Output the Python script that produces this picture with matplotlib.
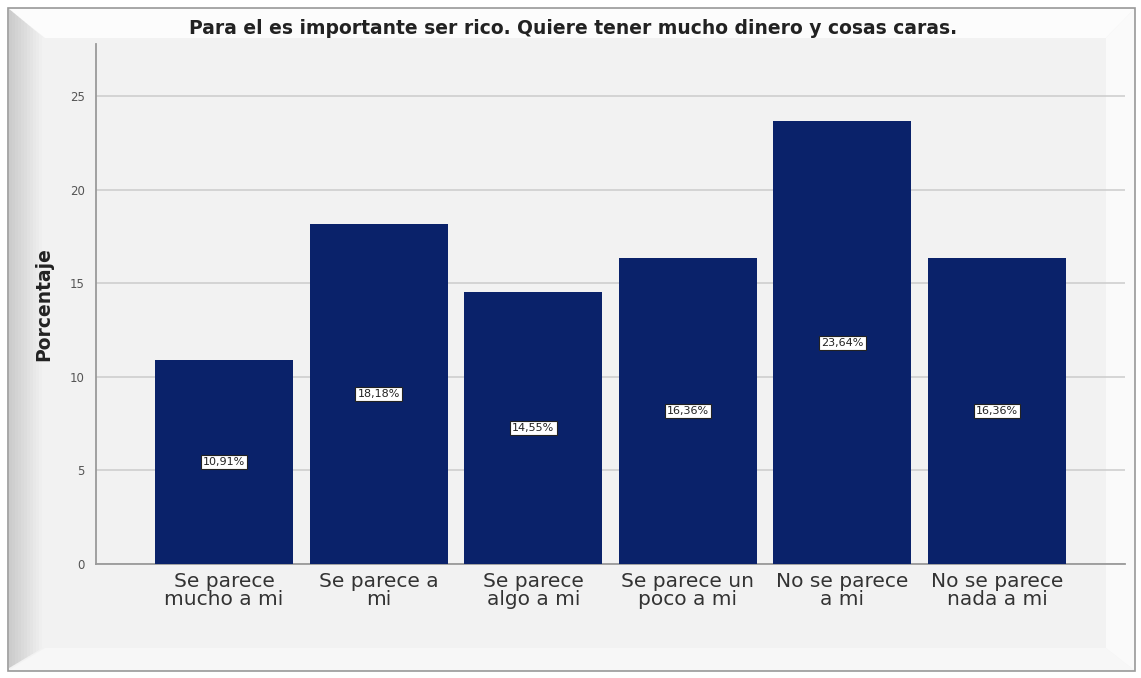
import matplotlib.pyplot as plt
import numpy as np
from matplotlib.patches import Rectangle, Polygon

categories = ['Se parece\nmucho a mi', 'Se parece a\nmi', 'Se parece\nalgo a mi',
              'Se parece un\npoco a mi', 'No se parece\na mi', 'No se parece\nnada a mi']
porcentaje = [10.91, 18.18, 14.55, 16.36, 23.64, 16.36]
yticks = [0, 5, 10, 15, 20, 25]

W, H = 1141, 678
fig = plt.figure(figsize=(W / 100, H / 100), dpi=100)
fig.patch.set_facecolor('white')

# beveled frame around the chart (figure pixel coordinates)
bg = fig.add_axes([0, 0, 1, 1])
bg.set_xlim(0, W)
bg.set_ylim(H, 0)
bg.axis('off')
bg.add_patch(Rectangle((8, 8), W - 14, H - 15, facecolor='#f2f2f2', edgecolor='#9a9a9a', lw=1.2))
# top bevel (white)
bg.add_patch(Polygon([(9, 9), (W - 7, 9), (W - 35, 38), (45, 38)], closed=True,
                     facecolor='#fcfcfc', edgecolor='none'))
# left bevel (gray gradient)
n = 12
for i in range(n):
    g = 0.80 + 0.15 * i / (n - 1)
    x0 = 9 + i * 3
    bg.add_patch(Polygon([(x0, 9 + i * 2.5), (x0 + 3.2, 11.5 + i * 2.5), (x0 + 3.2, H - 10 - (i + 1) * 1.8),
                          (x0, H - 10 - i * 1.8)], closed=True, facecolor=(g, g, g), edgecolor='none'))
# bottom and right bevels (light)
bg.add_patch(Polygon([(45, H - 30), (W - 35, H - 30), (W - 7, H - 8), (9, H - 8)], closed=True,
                     facecolor='#f7f7f7', edgecolor='none'))
bg.add_patch(Polygon([(W - 35, 38), (W - 7, 9), (W - 7, H - 8), (W - 35, H - 30)], closed=True,
                     facecolor='#fafafa', edgecolor='none'))

# main axes: x from 96 to 1125 px, y from 44 to 564 px
ax = fig.add_axes([96 / W, 1 - 564 / H, (1125 - 96) / W, (564 - 44) / H])
ax.set_facecolor('none')

x = np.arange(len(categories))
bars = ax.bar(x, porcentaje, width=0.893, color='#0a226a', zorder=3)

ax.set_xlim(-0.828, len(categories) - 1 + 0.828)
ax.set_ylim(0, 27.78)
ax.set_yticks(yticks)
ax.set_yticklabels([str(t) for t in yticks], fontsize=8.5, color='#555555')
ax.set_xticks(x)
ax.set_xticklabels(categories, fontsize=14.5, color='#333333', linespacing=0.92)
ax.tick_params(axis='both', length=0, pad=6)
ax.tick_params(axis='y', pad=8)

ax.yaxis.grid(True, color='#cfcfcf', lw=1.2, zorder=0)
for s in ['top', 'right']:
    ax.spines[s].set_visible(False)
ax.spines['left'].set_color('#9a9a9a')
ax.spines['bottom'].set_color('#9a9a9a')
ax.spines['left'].set_linewidth(1.3)
ax.spines['bottom'].set_linewidth(1.3)

for b, v in zip(bars, porcentaje):
    ax.text(b.get_x() + b.get_width() / 2, v / 2, f'{v:.2f}%'.replace('.', ','),
            ha='center', va='center', fontsize=8, color='#222222', zorder=4,
            bbox=dict(boxstyle='square,pad=0.2', facecolor='white', edgecolor='#222222', lw=0.8))

ax.set_ylabel('Porcentaje', fontsize=13.5, fontweight='bold', color='#222222', labelpad=12)
fig.text(573 / W, 1 - 29 / H,
         'Para el es importante ser rico. Quiere tener mucho dinero y cosas caras.',
         ha='center', va='center', fontsize=13.5, fontweight='bold', color='#222222')

fig.savefig('out.png', dpi=100, facecolor=fig.get_facecolor())
